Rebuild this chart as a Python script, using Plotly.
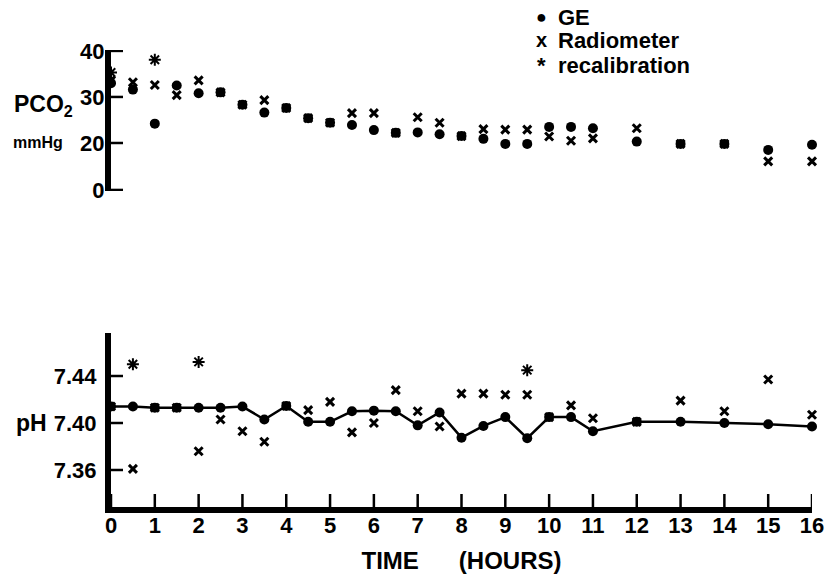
import plotly.graph_objects as go
from plotly.subplots import make_subplots

# ---------------- data ----------------
hours = [0, 0.5, 1, 1.5, 2, 2.5, 3, 3.5, 4, 4.5, 5, 5.5, 6, 6.5, 7, 7.5,
         8, 8.5, 9, 9.5, 10, 10.5, 11, 12, 13, 14, 15, 16]

ge_pco2 = [33.0, 31.6, 24.2, 32.5, 30.8, 31.0, 28.3, 26.6, 27.6, 25.4, 24.4, 23.9,
           22.8, 22.2, 22.3, 21.9, 21.5, 20.9, 19.8, 19.8, 23.5, 23.5, 23.2, 20.3,
           19.8, 19.8, 18.5, 19.6]
rad_pco2 = [33.6, 33.2, 32.6, 30.4, 33.6, 31.0, 28.3, 29.3, 27.6, 25.4, 24.4, 26.5,
            26.5, 22.2, 25.6, 24.4, 21.5, 23.0, 22.9, 22.9, 21.4, 20.5, 21.0, 23.2,
            19.8, 19.8, 16.0, 16.0]
recal_pco2_hours = [0, 1]
recal_pco2 = [35.3, 38.1]

ge_ph = [7.414, 7.414, 7.413, 7.413, 7.413, 7.413, 7.414, 7.403, 7.4145, 7.401,
         7.401, 7.410, 7.4105, 7.410, 7.398, 7.409, 7.3875, 7.3975, 7.405, 7.387,
         7.405, 7.405, 7.393, 7.401, 7.401, 7.400, 7.399, 7.397]
rad_ph = [7.414, 7.361, 7.413, 7.413, 7.376, 7.403, 7.393, 7.384, 7.4145, 7.411,
          7.418, 7.392, 7.400, 7.428, 7.410, 7.397, 7.425, 7.425, 7.424, 7.424,
          7.405, 7.415, 7.404, 7.401, 7.419, 7.410, 7.437, 7.407]
recal_ph_hours = [0.5, 2, 9.5]
recal_ph = [7.450, 7.452, 7.445]

x_ticks = list(range(0, 17))
pco2_tick_vals = [20, 30, 40]
pco2_tick_text = ["20", "30", "40"]
pco2_zero_label = "0"
ph_tick_vals = [7.36, 7.40, 7.44]
ph_tick_text = ["7.36", "7.40", "7.44"]

legend_labels = ["GE", "Radiometer", "recalibration"]
legend_symbols = ["●", "x", "*"]

# ---------------- layout helpers ----------------
W, H = 832, 574
ML, MR, MT, MB = 111, 20, 20, 67
PW, PH = W - ML - MR, H - MT - MB
BREAK_POS = 9.8  # position of the broken-axis "0" label on the PCO2 scale
TOP_PX = (50, 191)
BOT_PX = (333, 507)


def ydom(top_px, bot_px):
    return [(H - MB - bot_px) / PH, (H - MB - top_px) / PH]


def px_x(px):
    return (px - ML) / PW


def px_y(py):
    return (H - MB - py) / PH


FONT = "Liberation Sans, Arial, sans-serif"
BLK = "black"

fig = make_subplots(rows=2, cols=1)

ge_marker = dict(symbol="circle", size=10, color=BLK)
rad_marker = dict(symbol="x-thin-open", size=8, color=BLK, line=dict(width=3, color=BLK))
recal_marker = dict(symbol="asterisk-open", size=10, color=BLK, line=dict(width=2, color=BLK))

# top panel
fig.add_trace(go.Scatter(x=hours, y=ge_pco2, mode="markers", marker=ge_marker,
                         name="GE", showlegend=False, cliponaxis=False), row=1, col=1)
fig.add_trace(go.Scatter(x=hours, y=rad_pco2, mode="markers", marker=rad_marker,
                         name="Radiometer", showlegend=False, cliponaxis=False), row=1, col=1)
fig.add_trace(go.Scatter(x=recal_pco2_hours, y=recal_pco2, mode="markers", marker=recal_marker,
                         name="recalibration", showlegend=False, cliponaxis=False), row=1, col=1)

# bottom panel
fig.add_trace(go.Scatter(x=hours, y=ge_ph, mode="lines+markers", marker=ge_marker,
                         line=dict(color=BLK, width=2.5),
                         name="GE", showlegend=False, cliponaxis=False), row=2, col=1)
fig.add_trace(go.Scatter(x=hours, y=rad_ph, mode="markers", marker=rad_marker,
                         name="Radiometer", showlegend=False, cliponaxis=False), row=2, col=1)
fig.add_trace(go.Scatter(x=recal_ph_hours, y=recal_ph, mode="markers", marker=recal_marker,
                         name="recalibration", showlegend=False, cliponaxis=False), row=2, col=1)

tickfont = dict(family=FONT, size=22, color=BLK, weight="bold")
axis_style = dict(ticks="", showline=True, linewidth=6, linecolor=BLK,
                  showgrid=False, zeroline=False)

fig.update_layout(
    width=W, height=H,
    margin=dict(l=ML, r=MR, t=MT, b=MB, autoexpand=False),
    paper_bgcolor="white", plot_bgcolor="white",
    font=dict(family=FONT, color=BLK),
    showlegend=False,
    xaxis=dict(domain=[0, 1], range=[0, 16], visible=False),
    yaxis=dict(domain=ydom(*TOP_PX), range=[9.57, 40.2],
               tickmode="array", tickvals=[BREAK_POS] + pco2_tick_vals,
               ticktext=[pco2_zero_label] + pco2_tick_text,
               tickfont=tickfont, ticklabelstandoff=-4, **axis_style),
    xaxis2=dict(domain=[0, 1], range=[0, 16], tickmode="array", tickvals=x_ticks,
                tickfont=dict(family=FONT, size=22, color=BLK, weight="bold"),
                ticklabelstandoff=-6,
                title=dict(text="TIME\u00a0\u00a0\u00a0\u00a0\u00a0\u00a0(HOURS)", standoff=18,
                           font=dict(family=FONT, size=24, color=BLK, weight="bold")),
                **axis_style),
    yaxis2=dict(domain=ydom(*BOT_PX), range=[7.3285, 7.4766],
                tickmode="array", tickvals=ph_tick_vals, ticktext=ph_tick_text,
                tickfont=tickfont, ticklabelstandoff=4, **axis_style),
)

# inward tick marks, placed through the axes' own scales
tick_line = dict(color=BLK, width=2.5)
ytick_len = 12 / PW
for v in [BREAK_POS] + pco2_tick_vals:
    fig.add_shape(type="line", xref="x domain", yref="y", x0=0, x1=ytick_len,
                  y0=v, y1=v, line=tick_line, layer="above")
for v in ph_tick_vals:
    fig.add_shape(type="line", xref="x2 domain", yref="y2", x0=0, x1=ytick_len,
                  y0=v, y1=v, line=tick_line, layer="above")
xtick_len = 13 / (BOT_PX[1] - BOT_PX[0])
for v in x_ticks:
    fig.add_shape(type="line", xref="x2", yref="y2 domain", x0=v, x1=v,
                  y0=0, y1=xtick_len, line=tick_line, layer="above")

# axis labels
fig.add_annotation(text="PCO<sub>2</sub>", xref="paper", yref="paper",
                   x=px_x(12), y=px_y(106), xanchor="left", yanchor="middle",
                   showarrow=False, font=dict(family=FONT, size=23, color=BLK, weight="bold"))
fig.add_annotation(text="mmHg", xref="paper", yref="paper",
                   x=px_x(11), y=px_y(142), xanchor="left", yanchor="middle",
                   showarrow=False, font=dict(family=FONT, size=16, color=BLK, weight="bold"))
fig.add_annotation(text="pH", xref="paper", yref="paper",
                   x=px_x(14), y=px_y(423), xanchor="left", yanchor="middle",
                   showarrow=False, font=dict(family=FONT, size=23, color=BLK, weight="bold"))

# legend (typed key, as in the original figure)
legend_rows_px = [17, 40, 65]
legend_sym_sizes = [18, 20, 22]
for lab, sym, ssize, ypx in zip(legend_labels, legend_symbols, legend_sym_sizes, legend_rows_px):
    fig.add_annotation(text=sym, xref="paper", yref="paper",
                       x=px_x(541), y=px_y(ypx), xanchor="center", yanchor="middle",
                       showarrow=False, font=dict(family=FONT, size=ssize, color=BLK, weight="bold"))
    fig.add_annotation(text=lab, xref="paper", yref="paper",
                       x=px_x(556), y=px_y(ypx), xanchor="left", yanchor="middle",
                       showarrow=False, font=dict(family=FONT, size=22, color=BLK, weight="bold"))

# the page body has a default 8px margin; remove it so the figure sits at the window origin
fig.write_html("out.html", config={"displayModeBar": False},
               post_script="document.body.style.margin='0';")
